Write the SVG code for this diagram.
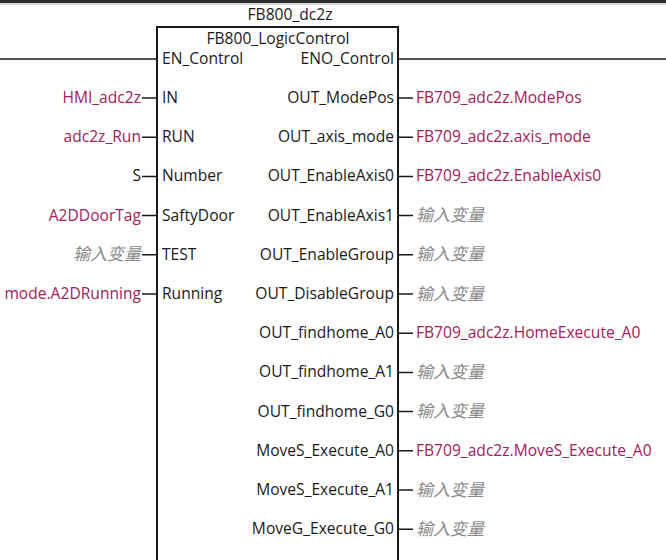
<svg xmlns="http://www.w3.org/2000/svg" width="666" height="560" viewBox="0 0 666 560">
<style>
text{font-family:"Open Sans","Noto Sans","Noto Sans CJK SC",sans-serif;font-size:15.6px;fill:#1a1a1a}
.r{text-anchor:end}
.var{fill:#a0205c}
.ph{fill:#8a8a8a;font-style:italic;font-size:17px}
.w{stroke:#1a1a1a;stroke-width:1.5;fill:none}
</style>
<rect x="0" y="0" width="666" height="560" fill="#fff"/>
<rect x="0" y="0" width="666" height="3" fill="#2e2e2e"/>
<rect x="0" y="3" width="666" height="2" fill="#d8d8d8"/>
<g id="connectors">
<line class="w" x1="0" y1="59" x2="157" y2="59"/>
<line class="w" x1="398" y1="59" x2="666" y2="59"/>
<path class="w" d="M142 98H157M142 137.2H157M142 176.4H157M142 215.6H157M142 254.8H157M142 294H157"/>
<path class="w" d="M398 98H413M398 137.2H413M398 176.4H413M398 215.6H413M398 254.8H413M398 294H413M398 333.2H413M398 372.4H413M398 411.6H413M398 450.8H413M398 490H413M398 529.2H413"/>
</g>
<g id="fb800">
<path d="M157 562V27H398V562" fill="none" stroke="#1a1a1a" stroke-width="2"/>
<text x="290" y="20" text-anchor="middle">FB800_dc2z</text>
<text x="278" y="44" text-anchor="middle">FB800_LogicControl</text>
<text x="162" y="64">EN_Control</text>
<text x="394" y="64" class="r">ENO_Control</text>
<text x="162" y="103">IN</text>
<text x="162" y="142.2">RUN</text>
<text x="162" y="181.4">Number</text>
<text x="162" y="220.6">SaftyDoor</text>
<text x="162" y="259.8">TEST</text>
<text x="162" y="299">Running</text>
<text x="394" y="103" class="r">OUT_ModePos</text>
<text x="394" y="142.2" class="r">OUT_axis_mode</text>
<text x="394" y="181.4" class="r">OUT_EnableAxis0</text>
<text x="394" y="220.6" class="r">OUT_EnableAxis1</text>
<text x="394" y="259.8" class="r">OUT_EnableGroup</text>
<text x="394" y="299" class="r">OUT_DisableGroup</text>
<text x="394" y="338.2" class="r">OUT_findhome_A0</text>
<text x="394" y="377.4" class="r">OUT_findhome_A1</text>
<text x="394" y="416.6" class="r">OUT_findhome_G0</text>
<text x="394" y="455.8" class="r">MoveS_Execute_A0</text>
<text x="394" y="495" class="r">MoveS_Execute_A1</text>
<text x="394" y="534.2" class="r">MoveG_Execute_G0</text>
</g>
<g id="inputs">
<text x="141" y="103" class="r var">HMI_adc2z</text>
<text x="141" y="142.2" class="r var">adc2z_Run</text>
<text x="141" y="181.4" class="r">S</text>
<text x="141" y="220.6" class="r var">A2DDoorTag</text>
<text x="141" y="260.3" class="r ph">输入变量</text>
<text x="141" y="299" class="r var">mode.A2DRunning</text>
</g>
<g id="outputs">
<text x="416" y="103" class="var">FB709_adc2z.ModePos</text>
<text x="416" y="142.2" class="var">FB709_adc2z.axis_mode</text>
<text x="416" y="181.4" class="var">FB709_adc2z.EnableAxis0</text>
<text x="416" y="221.1" class="ph">输入变量</text>
<text x="416" y="260.3" class="ph">输入变量</text>
<text x="416" y="299.5" class="ph">输入变量</text>
<text x="416" y="338.2" class="var">FB709_adc2z.HomeExecute_A0</text>
<text x="416" y="377.9" class="ph">输入变量</text>
<text x="416" y="417.1" class="ph">输入变量</text>
<text x="416" y="455.8" class="var">FB709_adc2z.MoveS_Execute_A0</text>
<text x="416" y="495.5" class="ph">输入变量</text>
<text x="416" y="534.7" class="ph">输入变量</text>
</g>
</svg>
